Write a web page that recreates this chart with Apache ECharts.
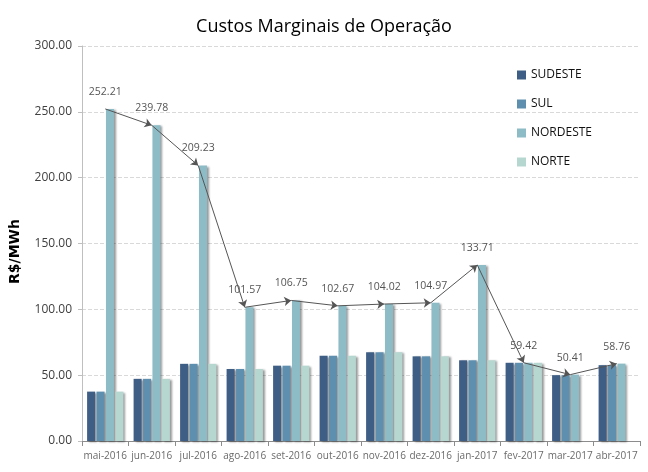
<!DOCTYPE html>
<html>
<head>
<meta charset="utf-8">
<script src="https://cdn.jsdelivr.net/npm/echarts@6/dist/echarts.min.js"></script>
<style>html,body{margin:0;padding:0;background:#fff}#c{width:648px;height:472px}</style>
</head>
<body>
<div id="c"></div>
<script>
var categories = ['mai-2016','jun-2016','jul-2016','ago-2016','set-2016','out-2016','nov-2016','dez-2016','jan-2017','fev-2017','mar-2017','abr-2017'];
var sudeste  = [37.5, 47.2, 58.6, 54.7, 57.2, 64.8, 67.4, 64.3, 61.3, 59.4, 50.0, 57.6];
var sul      = [37.5, 47.2, 58.6, 54.7, 57.2, 64.8, 67.4, 64.3, 61.3, 59.4, 50.0, 57.6];
var nordeste = [252.21, 239.78, 209.23, 101.57, 106.75, 102.67, 104.02, 104.97, 133.71, 59.42, 50.41, 58.76];
var norte    = [37.5, 47.2, 58.6, 54.7, 57.2, 64.8, 67.4, 64.3, 61.3, 59.4, null, null];
var yTicks = [0, 50, 100, 150, 200, 250, 300];

var FONT = "'Open Sans',sans-serif";
var shadow = {shadowColor:'rgba(0,0,0,0.4)', shadowOffsetX:2, shadowOffsetY:1, shadowBlur:2};

function barSeries(name, data, color){
  return {
    name:name, type:'bar', data:data, barWidth:8, barGap:'18%',
    itemStyle:Object.assign({color:color}, shadow),
    animation:false
  };
}

var arrows = [];
for (var i = 0; i < nordeste.length - 1; i++) {
  arrows.push([{coord:[i, nordeste[i]]}, {coord:[i+1, nordeste[i+1]]}]);
}

var chart = echarts.init(document.getElementById('c'));
chart.setOption({
  animation:false,
  title:{text:'Custos Marginais de Operação', left:'center', top:13,
    textStyle:{fontFamily:FONT, fontSize:18, fontWeight:500, color:'#000'}},
  legend:{orient:'vertical', left:512, top:64, itemGap:17, icon:'rect', itemWidth:9, itemHeight:9,
    itemStyle:{borderWidth:0},
    textStyle:{fontFamily:FONT, fontSize:12, color:'#111'},
    data:['SUDESTE','SUL','NORDESTE','NORTE']},
  grid:{left:80, right:8, top:46, bottom:31},
  xAxis:{type:'category', data:categories,
    axisLine:{lineStyle:{color:'#8c8c8c'}},
    axisTick:{show:true, length:5, lineStyle:{color:'#8c8c8c'}},
    axisLabel:{fontFamily:FONT, fontSize:10, color:'#6b6b6b', margin:10, interval:0}},
  yAxis:{type:'value', min:yTicks[0], max:yTicks[yTicks.length-1], interval:50,
    name:'R$/MWh', nameLocation:'middle', nameGap:60,
    nameTextStyle:{fontFamily:"'DejaVu Sans',sans-serif", fontSize:14, fontWeight:'bold', color:'#000', padding:[0,0,0,-16]},
    axisLine:{show:true, lineStyle:{color:'#bfbfbf'}},
    axisTick:{show:true, length:4, lineStyle:{color:'#bfbfbf'}},
    axisLabel:{fontFamily:FONT, fontSize:12, color:'#404040', margin:10,
      formatter:function(v){return v.toFixed(2);}},
    splitLine:{show:true, lineStyle:{color:'#d9d9d9', type:'dashed'}}},
  series:[
    barSeries('SUDESTE', sudeste, '#3f5e85'),
    barSeries('SUL', sul, '#5f8fae'),
    barSeries('NORDESTE', nordeste, '#8dbcc7'),
    barSeries('NORTE', norte, '#b6d6d0'),
    {type:'line', data:nordeste, symbol:'circle', symbolSize:1, showSymbol:true,
      itemStyle:{color:'rgba(0,0,0,0)'}, lineStyle:{opacity:0}, silent:true,
      label:{show:true, position:'top', distance:11, fontFamily:FONT, fontSize:10.5, color:'#555',
        formatter:function(p){return p.value.toFixed(2);}},
      markLine:{silent:true, symbol:['none','arrow'], symbolSize:7, label:{show:false},
        lineStyle:{color:'#555', width:1, type:'solid'}, emphasis:{disabled:true},
        data:arrows},
      z:5}
  ]
});
</script>
</body>
</html>
